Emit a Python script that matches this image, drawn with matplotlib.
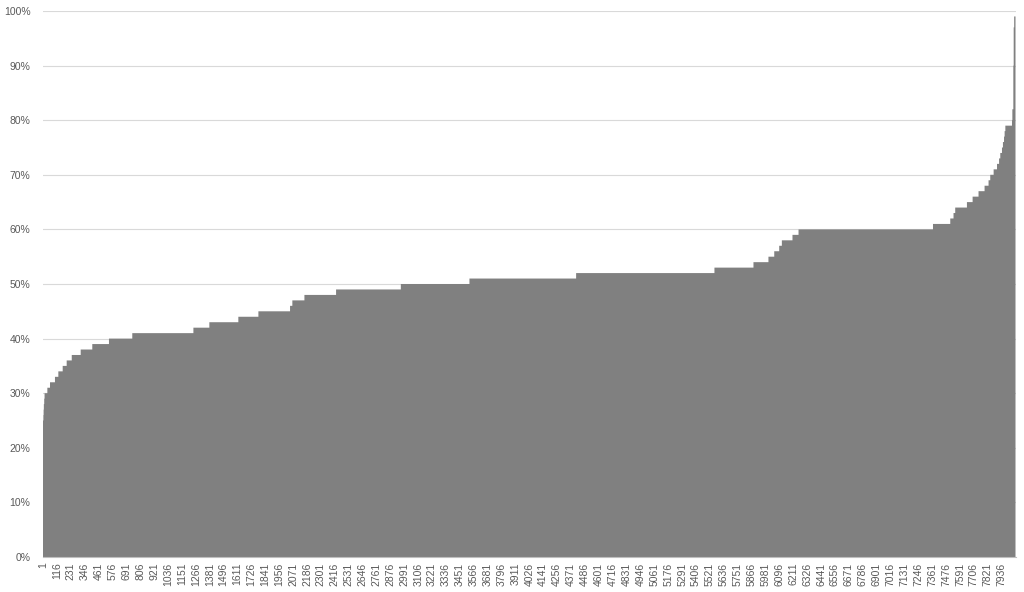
import numpy as np
import matplotlib
matplotlib.use("Agg")
import matplotlib.pyplot as plt
from matplotlib.ticker import FuncFormatter

# Sorted share values (percent levels) and how many records sit at each level
levels = [25, 26, 27, 28, 29, 30, 31, 32, 33, 34, 35, 36, 37, 38, 39, 40, 41, 42, 43, 44,
          45, 46, 47, 48, 49, 50, 51, 52, 53, 54, 55, 56, 57, 58, 59, 60, 61, 62, 63, 64,
          65, 66, 67, 68, 69, 70, 71, 72, 73, 74, 75, 76, 77, 78, 79, 80, 82, 90, 97, 99]
counts = [3, 2, 2, 3, 3, 23, 22, 41, 28, 36, 33, 42, 74, 96, 138, 193, 506, 132, 240, 166,
          262, 19, 100, 262, 536, 568, 883, 1145, 323, 124, 48, 41, 22, 88, 50, 1113, 143, 27, 14, 97,
          47, 49, 50, 33, 14, 28, 28, 17, 10, 14, 8, 9, 5, 6, 55, 3, 8, 3, 4, 11]

values = np.repeat(np.array(levels, dtype=float) / 100.0, counts)
N = len(values)
tick_step = 115
tick_positions = np.arange(1, N + 1, tick_step)

plt.rcParams['font.family'] = ['Liberation Sans', 'DejaVu Sans']

fig = plt.figure(figsize=(10.24, 5.92), dpi=100)
ax = fig.add_axes([43 / 1024, 35 / 592, (1015.5 - 43) / 1024, (557 - 11) / 592])

edges = np.arange(0.5, N + 1.5, 1.0)
ax.stairs(values, edges, fill=True, color='#808080', linewidth=0)

ax.set_xlim(0.5, N + 0.5)
ax.set_ylim(0, 1.0)
ax.set_yticks(np.arange(0, 1.01, 0.1))
ax.yaxis.set_major_formatter(FuncFormatter(lambda v, p: f"{int(round(v * 100))}%"))
ax.set_xticks(tick_positions)
ax.set_xticklabels([str(t) for t in tick_positions], rotation=90)

ax.grid(axis='y', color='#d9d9d9', linewidth=0.8)
ax.set_axisbelow(True)
for s in ['top', 'right', 'left']:
    ax.spines[s].set_visible(False)
ax.spines['bottom'].set_color('#bfbfbf')
ax.spines['bottom'].set_linewidth(0.8)
ax.tick_params(axis='both', length=0, labelsize=7.5, labelcolor='#595959')
ax.tick_params(axis='y', pad=9)
ax.tick_params(axis='x', pad=4)

fig.savefig('out.png', dpi=100)
